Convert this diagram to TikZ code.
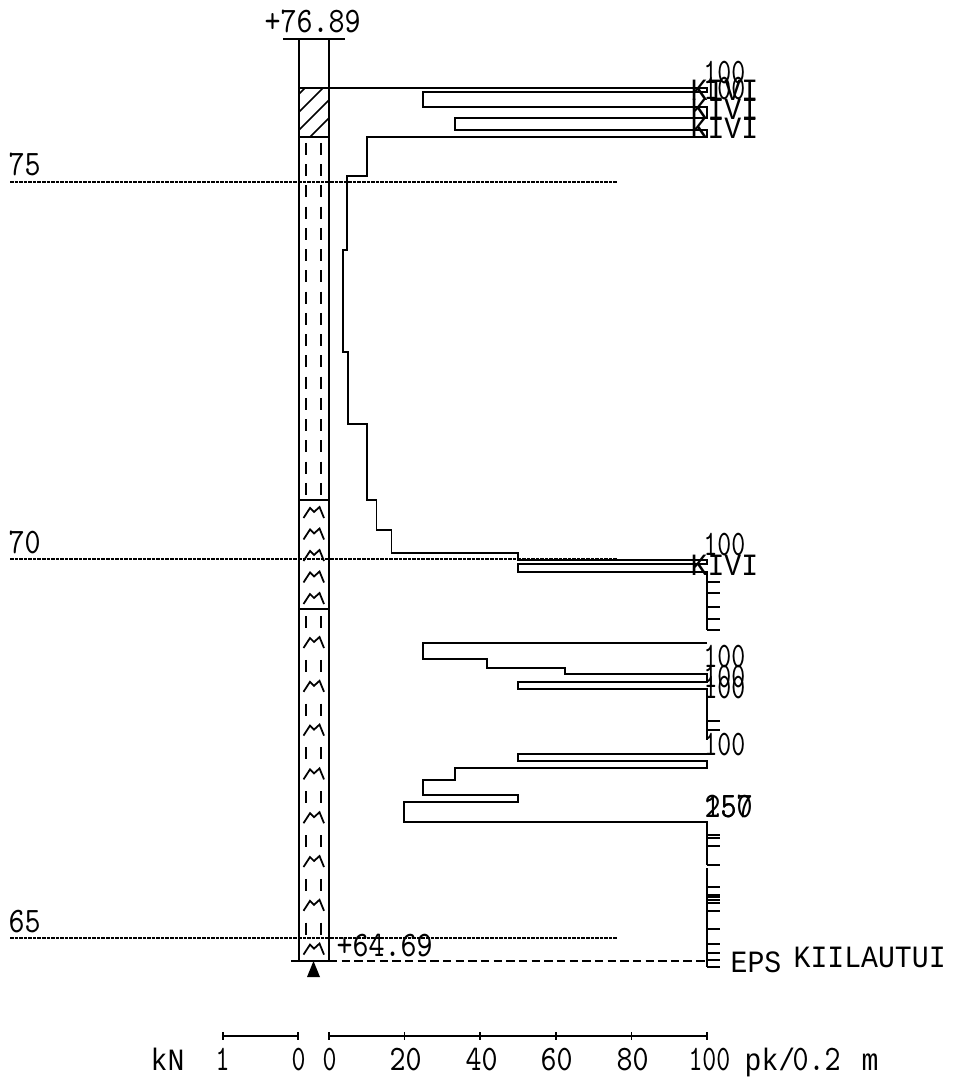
\documentclass[tikz,border=0pt]{standalone}
\usepackage{fontspec}
\newfontfamily\wordfont{Liberation Mono}
\tikzset{
  >=latex,
}
\tikzstyle{every node}=[font=\ttfamily\fontsize{10.2}{11}\selectfont,inner sep=0pt,anchor=base west,transform shape,xscale=.85]
\tikzstyle{hundred}=[xscale=.87]
\tikzstyle{word}=[font=\wordfont\fontsize{8.8}{10}\selectfont,xscale=1.07]
\tikzstyle{line}=[line width=.5pt]
\tikzstyle{level}=[line width=.5pt,dash pattern=on 1pt off .3pt]
\tikzstyle{refdash}=[line width=.5pt,dash pattern=on 2.4pt off 1.2pt]

\begin{document}
\begin{tikzpicture}[x=.01cm,y=-.01cm,line join=miter]
    \useasboundingbox (0,0) rectangle (952,1080);
    % levels
    \draw[level] (10,182)--(617,182);
    \draw[level] (10,559)--(617,559);
    \draw[level] (10,938)--(617,938);
    \node (lev75) at (8,176) {75};
    \node (lev70) at (8,553) {70};
    \node (lev65) at (8,932) {65};
    % column
    \draw[line] (299,39)--(299,961);
    \draw[line] (329,39)--(329,961);
    \draw[line] (283,39)--(345,39);
    \draw[line] (291,961)--(329,961);
    \draw[line] (299,88)--(329,88);
    \draw[line] (299,137)--(329,137);
    \draw[line] (299,500)--(329,500);
    \draw[line] (299,609)--(329,609);
    \draw[line] (299,94)--(305,88) (299,112)--(323,88) (299,130)--(329,100) (310,137)--(329,118);
    \foreach \y in {143,164.25,...,484}
      \draw[line] (306,\y)--(306,\y+12) (321,\y)--(321,\y+12);
    \foreach \y in {616,659.8,...,925}
      \draw[line] (306,\y)--(306,\y+12) (321,\y)--(321,\y+12);
    \foreach \y in {507,528.5,...,594,637,680.8,...,945}
      \draw[line] (303.5,\y+11)--(310,\y+1)--(314,\y+5)--(319.5,\y)--(324,\y+11);
    \fill (313.5,961)--(320,977)--(307,977)--cycle;
    \draw[refdash] (329,961)--(707,961);
    \node (top) at (264,33) {+76.89};
    \node (bottom) at (336,956) {+64.69};
    % pk curve
    \draw[line] (329,88)--(707,88)--(707,92)--(423,92)--(423,107)--(707,107)--(707,118)--(455,118)--(455,130)--(707,130)--(707,137)
      --(367,137)--(367,176)--(347,176)--(347,250)--(343,250)--(343,352)--(348,352)--(348,424)--(367,424)--(367,500)--(376.5,500)
      --(376.5,530)--(391.5,530)--(391.5,553)--(518,553)--(518,560)--(707,560)--(707,564)--(518,564)--(518,572)--(707,572)--(707,630);
    \draw[line] (707,643)--(423,643)--(423,659)--(487,659)--(487,668)--(565,668)--(565,674)--(707,674)--(707,682)--(518,682)
      --(518,689)--(707,689)--(707,740);
    \draw[line] (707,754)--(518,754)--(518,761)--(707,761)--(707,768)--(455,768)--(455,780)--(423,780)--(423,795)--(518,795)
      --(518,802)--(404,802)--(404,822)--(707,822)--(707,865);
    \draw[line] (707,868)--(707,967);
    \foreach \y in {582,593,607,619,630,721,730,835,838,846,865,887,895,897,900,903,911,929,944,953,960,967}
      \draw[line] (707,\y)--(720,\y);
    % blow labels
    \node[hundred] (hit1) at (703,84) {100};
    \node[hundred] (hit2) at (703,100) {100};
    \node[word] (kivi1) at (690,101) {KIVI};
    \node[word] (kivi2) at (690,120) {KIVI};
    \node[word] (kivi3) at (690,139) {KIVI};
    \node[hundred] (hit3) at (703,555) {100};
    \node[word] (kivi4) at (690,575) {KIVI};
    \node[hundred] (hit4) at (703,667) {100};
    \node[hundred] (hit5) at (703,687) {100};
    \node[hundred] (hit6) at (703,698) {100};
    \node[hundred] (hit7) at (703,755) {100};
    \node (hit8) at (704,817) {150};
    \node (hit9) at (704,817) {257};
    \node[word] (eps) at (730,972) {EPS};
    \node[word] (stuck) at (793,967) {KIILAUTUI};
    % scales
    \draw[line] (223,1036)--(298,1036);
    \draw[line] (223,1032)--(223,1040) (298,1032)--(298,1040);
    \draw[line] (329,1036)--(707,1036);
    \foreach \x in {329,404.6,...,708}
      \draw[line] (\x,1032)--(\x,1040);
    \node[word] (kn) at (150,1070) {kN};
    \node[hundred] (kn1) at (215,1070) {1};
    \node[hundred] (kn0) at (291,1070) {0};
    \node[hundred] (pk0) at (322,1070) {0};
    \node (pk20) at (389,1070) {20};
    \node (pk40) at (465,1070) {40};
    \node (pk60) at (540,1070) {60};
    \node (pk80) at (616,1070) {80};
    \node[hundred] (pk100) at (688,1070) {100};
    \node[word] (pkunit) at (744,1070) {pk/};
    \node (pkval) at (792,1070) {0.2};
    \node[word] (pkm) at (861,1070) {m};
  \end{tikzpicture}
\end{document}
